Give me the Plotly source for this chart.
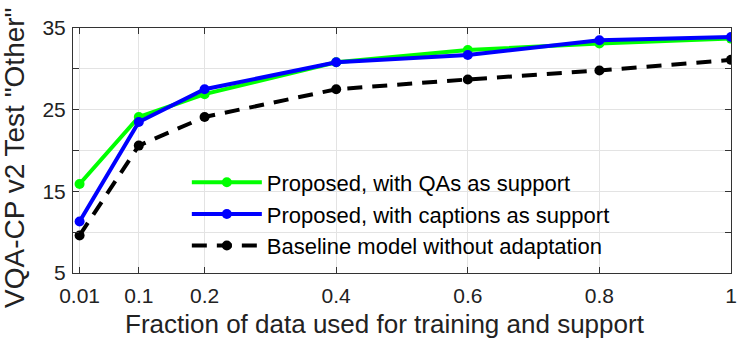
import plotly.graph_objects as go

# fraction of data used for training and support
fractions = [0.01, 0.1, 0.2, 0.4, 0.6, 0.8, 1.0]

# VQA-CP v2 "Other" accuracy
qa_support = [15.9, 24.1, 26.9, 30.8, 32.3, 33.1, 33.7]
caption_support = [11.3, 23.5, 27.5, 30.8, 31.7, 33.5, 33.9]
baseline = [9.6, 20.6, 24.1, 27.5, 28.7, 29.8, 31.1]

x_ticks = [0.01, 0.1, 0.2, 0.4, 0.6, 0.8, 1]
x_tick_text = ['0.01', '0.1', '0.2', '0.4', '0.6', '0.8', '1']
y_grid = [5, 10, 15, 20, 25, 30, 35]
y_tick_text = ['5', '', '15', '', '25', '', '35']

font = 'Liberation Sans, Arial, Helvetica, sans-serif'
txt = '#222222'

fig = go.Figure()
fig.add_trace(go.Scatter(x=fractions, y=qa_support, mode='lines+markers',
                         name='Proposed, with QAs as support',
                         line=dict(color='#00FF00', width=4),
                         marker=dict(size=10, color='#00FF00')))
fig.add_trace(go.Scatter(x=fractions, y=caption_support, mode='lines+markers',
                         name='Proposed, with captions as support',
                         line=dict(color='#0000FF', width=4),
                         marker=dict(size=10, color='#0000FF')))
fig.add_trace(go.Scatter(x=fractions, y=baseline, mode='lines+markers',
                         name='Baseline model without adaptation',
                         line=dict(color='black', width=4, dash='15px,10px'),
                         marker=dict(size=10, color='black')))

axis_common = dict(showline=True, linecolor='#333333', linewidth=1, mirror='ticks',
                   ticks='inside', ticklen=6, tickcolor='#333333',
                   showgrid=True, gridcolor='#e3e3e3', gridwidth=1,
                   zeroline=False, tickfont=dict(size=21, color=txt, family=font))

fig.update_xaxes(range=[0, 1], tickvals=x_ticks, ticktext=x_tick_text,
                 ticklabelstandoff=4, **axis_common)
fig.update_yaxes(range=[5, 35], tickvals=y_grid, ticktext=y_tick_text,
                 ticklabelstandoff=2, **axis_common)

# axis titles as annotations so they can sit where the original puts them
fig.add_annotation(text='Fraction of data used for training and support',
                   xref='paper', yref='paper', x=0.474, y=-0.21,
                   xanchor='center', yanchor='middle', showarrow=False,
                   font=dict(size=26, color=txt, family=font))
fig.add_annotation(text='VQA-CP v2 Test "Other"',
                   xref='paper', yref='paper', x=-0.088, y=0.47,
                   xanchor='center', yanchor='middle', showarrow=False, textangle=-90,
                   font=dict(size=28, color=txt, family=font))

fig.update_layout(
    width=746, height=348,
    margin=dict(l=73, r=9, t=28, b=75),
    plot_bgcolor='white', paper_bgcolor='white',
    font=dict(family=font),
    legend=dict(x=0.173, y=0.455, xanchor='left', yanchor='top',
                bgcolor='rgba(0,0,0,0)', borderwidth=0,
                font=dict(size=22, color='black', family=font),
                itemwidth=70, tracegroupgap=0),
    showlegend=True,
)

fig.write_html("out.html", config={'displayModeBar': False},
               post_script="document.body.style.margin='0';")
